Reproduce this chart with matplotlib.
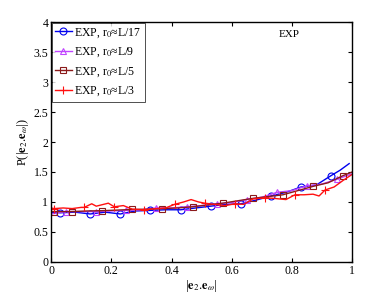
import matplotlib
matplotlib.use("Agg")
import matplotlib.pyplot as plt
import numpy as np

plt.rcParams['font.family'] = ['Liberation Serif', 'DejaVu Serif']
plt.rcParams['mathtext.fontset'] = 'stix'

# r0 = L/17
x_l17 = [0, 0.03, 0.08, 0.13, 0.18, 0.23, 0.28, 0.33, 0.38, 0.43, 0.48, 0.53, 0.58,
         0.63, 0.68, 0.73, 0.78, 0.83, 0.88, 0.93, 0.96, 0.99]
y_l17 = [0.83, 0.82, 0.83, 0.80, 0.83, 0.80, 0.85, 0.86, 0.87, 0.87, 0.90, 0.93, 0.96,
         0.97, 1.03, 1.10, 1.16, 1.25, 1.28, 1.44, 1.53, 1.64]

# r0 = L/9
x_l9 = [0, 0.05, 0.10, 0.15, 0.20, 0.25, 0.30, 0.35, 0.40, 0.45, 0.50, 0.55, 0.60,
        0.65, 0.70, 0.75, 0.80, 0.85, 0.90, 0.95, 1.0]
y_l9 = [0.80, 0.84, 0.84, 0.84, 0.85, 0.86, 0.87, 0.90, 0.90, 0.92, 0.94, 0.97, 0.99,
        1.04, 1.08, 1.16, 1.19, 1.27, 1.30, 1.38, 1.47]

# r0 = L/5
x_l5 = [0, 0.01, 0.07, 0.12, 0.17, 0.22, 0.27, 0.32, 0.37, 0.42, 0.47, 0.52, 0.57,
        0.62, 0.67, 0.72, 0.77, 0.82, 0.87, 0.92, 0.97, 1.0]
y_l5 = [0.84, 0.84, 0.84, 0.85, 0.855, 0.865, 0.875, 0.88, 0.89, 0.90, 0.92, 0.95, 0.98,
        1.02, 1.06, 1.09, 1.12, 1.19, 1.26, 1.32, 1.44, 1.50]

# r0 = L/3
x_l3 = [0, 0.01, 0.04, 0.07, 0.10, 0.11, 0.135, 0.15, 0.19, 0.21, 0.24, 0.27, 0.31,
        0.35, 0.38, 0.41, 0.44, 0.465, 0.49, 0.51, 0.54, 0.58, 0.61, 0.64, 0.67, 0.71,
        0.74, 0.78, 0.81, 0.84, 0.87, 0.89, 0.91, 0.94, 0.97, 1.0]
y_l3 = [0.90, 0.89, 0.90, 0.89, 0.91, 0.91, 0.97, 0.93, 0.98, 0.92, 0.94, 0.88, 0.87,
        0.89, 0.90, 0.96, 1.00, 1.04, 1.00, 0.98, 0.96, 0.94, 0.97, 0.96, 1.05, 1.07,
        1.06, 1.04, 1.12, 1.12, 1.13, 1.10, 1.20, 1.25, 1.36, 1.46]

# x positions that carry a marker
mk_l17 = [0.03, 0.13, 0.23, 0.33, 0.43, 0.53, 0.63, 0.73, 0.83, 0.93]
mk_l9 = [0.05, 0.15, 0.25, 0.35, 0.45, 0.55, 0.65, 0.75, 0.85, 0.95]
mk_l5 = [0.01, 0.07, 0.17, 0.27, 0.37, 0.47, 0.57, 0.67, 0.77, 0.87, 0.97]
mk_l3 = [0.01, 0.11, 0.21, 0.31, 0.41, 0.51, 0.61, 0.71, 0.81, 0.91]

labels = [r'EXP, r$_0$≈L/17', r'EXP, r$_0$≈L/9', r'EXP, r$_0$≈L/5', r'EXP, r$_0$≈L/3']


def idx(xs, marks):
    return [xs.index(m) for m in marks]


fig = plt.figure(figsize=(3.9, 2.94), dpi=100)
ax = fig.add_axes([0.131, 0.109, 0.772, 0.816])

ax.plot(x_l17, y_l17, color='#0000ee', lw=1.0, marker='o', ms=5, mfc='none',
        mew=0.8, markevery=idx(x_l17, mk_l17), label=labels[0])
ax.plot(x_l9, y_l9, color='#c044ff', lw=1.0, marker='^', ms=5, mfc='none',
        mew=0.8, markevery=idx(x_l9, mk_l9), label=labels[1])
ax.plot(x_l5, y_l5, color='#8b1a1a', lw=1.0, marker='s', ms=4.5, mfc='none',
        mew=0.8, markevery=idx(x_l5, mk_l5), label=labels[2])
ax.plot(x_l3, y_l3, color='#ff1010', lw=1.0, marker='+', ms=6, mew=0.8,
        markevery=idx(x_l3, mk_l3), label=labels[3])

ax.set_xlim(0, 1)
ax.set_ylim(0, 4)
ax.set_xticks([0, 0.2, 0.4, 0.6, 0.8, 1])
ax.set_xticklabels(['0', '0.2', '0.4', '0.6', '0.8', '1'])
ax.set_yticks([0, 0.5, 1, 1.5, 2, 2.5, 3, 3.5, 4])
ax.set_yticklabels(['0', '0.5', '1', '1.5', '2', '2.5', '3', '3.5', '4'])
ax.tick_params(direction='in', top=True, right=True, labelsize=8.5, length=3, pad=2)
for s in ax.spines.values():
    s.set_linewidth(1.0)

ax.set_xlabel(r'|$\mathbf{e}_2$.$\mathbf{e}_\omega$|', fontsize=9, labelpad=1)
ax.set_ylabel(r'P(|$\mathbf{e}_2$.$\mathbf{e}_\omega$|)', fontsize=9, labelpad=2)

ax.text(0.79, 3.8, 'EXP', fontsize=8, ha='center', va='center')

leg = ax.legend(loc='upper left', fontsize=8.5, frameon=True, fancybox=False,
                edgecolor='black', handlelength=1.4, handletextpad=0.2,
                borderaxespad=0.05, borderpad=0.3, labelspacing=0.5)
leg.get_frame().set_linewidth(0.6)

fig.savefig('out.png', dpi=100)
